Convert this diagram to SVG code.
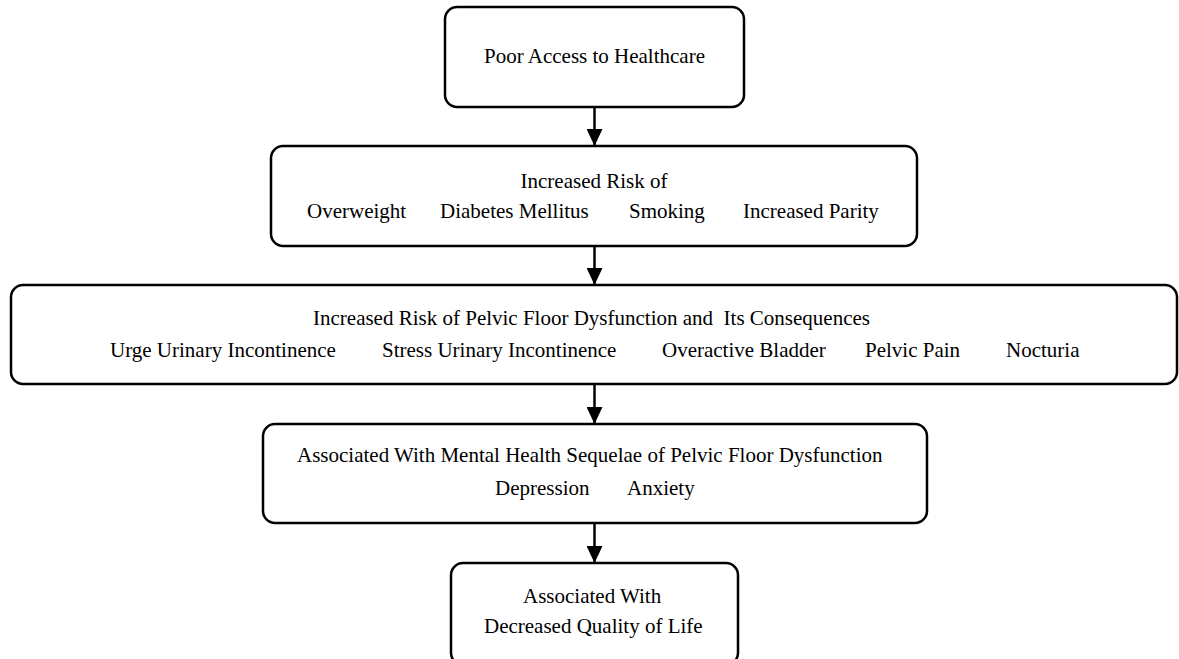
<svg xmlns="http://www.w3.org/2000/svg" width="1179" height="659" viewBox="0 0 1179 659">
  <style>
    .box { fill: #ffffff; stroke: #000000; stroke-width: 2.5; }
    .t { font-family: "Liberation Serif", "Times New Roman", serif; font-size: 21px; fill: #000000; }
    .c { text-anchor: middle; }
    .edge { stroke: #000000; stroke-width: 2.5; fill: none; marker-end: url(#arrow); }
  </style>
  <defs>
    <marker id="arrow" markerUnits="userSpaceOnUse" markerWidth="18" markerHeight="16" refX="17" refY="8" orient="auto">
      <path d="M0,0 L17,8 L0,16 Z" fill="#000000"/>
    </marker>
  </defs>
  <rect width="1179" height="659" fill="#ffffff"/>

  <g id="connectors">
    <line class="edge" x1="594.5" y1="107" x2="594.5" y2="146"/>
    <line class="edge" x1="594.5" y1="246" x2="594.5" y2="285"/>
    <line class="edge" x1="594.5" y1="384" x2="594.5" y2="424"/>
    <line class="edge" x1="594.5" y1="523" x2="594.5" y2="563"/>
  </g>

  <g id="node-access">
    <rect class="box" x="445" y="7" width="299" height="100" rx="12" ry="12"/>
    <text class="t c" x="594.5" y="63">Poor Access to Healthcare</text>
  </g>

  <g id="node-risk">
    <rect class="box" x="271" y="146" width="646" height="100" rx="12" ry="12"/>
    <text class="t c" x="594" y="188">Increased Risk of</text>
    <text class="t" x="307" y="218">Overweight</text>
    <text class="t" x="440" y="218">Diabetes Mellitus</text>
    <text class="t" x="629" y="218">Smoking</text>
    <text class="t" x="743" y="218">Increased Parity</text>
  </g>

  <g id="node-pfd">
    <rect class="box" x="11" y="285" width="1166" height="99" rx="12" ry="12"/>
    <text class="t" x="313" y="325" xml:space="preserve">Increased Risk of Pelvic Floor Dysfunction and  Its Consequences</text>
    <text class="t" x="110" y="357">Urge Urinary Incontinence</text>
    <text class="t" x="382" y="357">Stress Urinary Incontinence</text>
    <text class="t" x="662" y="357">Overactive Bladder</text>
    <text class="t" x="865" y="357">Pelvic Pain</text>
    <text class="t" x="1006" y="357">Nocturia</text>
  </g>

  <g id="node-mental">
    <rect class="box" x="263" y="424" width="664" height="99" rx="12" ry="12"/>
    <text class="t" x="297" y="462">Associated With Mental Health Sequelae of Pelvic Floor Dysfunction</text>
    <text class="t" x="495" y="495">Depression</text>
    <text class="t" x="627" y="495">Anxiety</text>
  </g>

  <g id="node-qol">
    <rect class="box" x="451" y="563" width="287" height="102" rx="12" ry="12"/>
    <text class="t" x="523" y="603">Associated With</text>
    <text class="t" x="484" y="633">Decreased Quality of Life</text>
  </g>
</svg>
